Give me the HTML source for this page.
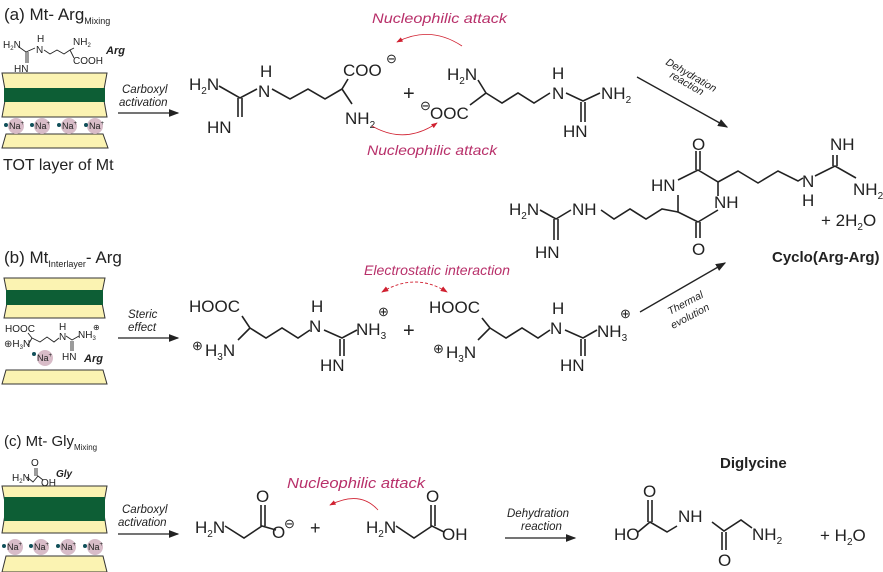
<!DOCTYPE html>
<html><head><meta charset="utf-8"><style>
html,body{margin:0;padding:0;background:#fff}
svg{display:block}
text{font-family:"Liberation Sans",sans-serif;fill:#222}
.m{font-size:17px}
.s{font-size:10px}
.i{font-style:italic;font-size:11.5px}
.r{fill:#b8306a;font-style:italic;font-size:14px}
.b{stroke:#222;stroke-width:1.6;fill:none}
.tb{stroke:#222;stroke-width:0.9;fill:none}
.y{fill:#fbf3b2;stroke:#333;stroke-width:1}
.g{fill:#0d5e35}
.na{fill:#d8bcc8}
.d{fill:#11505a}
</style></head><body>
<svg width="883" height="572" viewBox="0 0 883 572" xmlns="http://www.w3.org/2000/svg">
<defs>
<marker id="ah" markerWidth="8" markerHeight="6" refX="7" refY="3" orient="auto"><path d="M0,0L8,3L0,6z" fill="#222"/></marker>
<marker id="ar" markerWidth="8" markerHeight="6" refX="7" refY="3" orient="auto"><path d="M0,0L8,3L0,6z" fill="#d02030"/></marker>
<marker id="ars" markerWidth="8" markerHeight="6" refX="1" refY="3" orient="auto"><path d="M8,0L0,3L8,6z" fill="#d02030"/></marker>
</defs>

<!-- ===== Panel a ===== -->
<text x="4" y="20" style="font-size:17px">(a) Mt- Arg<tspan style="font-size:9px" dy="4">Mixing</tspan></text>
<text x="3" y="48" class="s">H<tspan dy="2" style="font-size:6px">2</tspan><tspan dy="-2">N</tspan></text>
<text x="37" y="42" class="s">H</text><text x="36" y="53" class="s">N</text>
<text x="73" y="45" class="s">NH<tspan dy="2" style="font-size:6px">2</tspan></text>
<text x="73" y="64" class="s">COOH</text>
<text x="14" y="72" class="s">HN</text>
<path class="tb" d="M19,47L26,52L35,48M26,52L26,63M28,52L28,63M44,50L50,54L57,50L64,54L70,50L74,48M70,50L74,58"/>
<text x="106" y="54" style="font-size:11px;font-weight:bold;font-style:italic">Arg</text>
<polygon class="y" points="2,73 107,73 103,95 107,117 2,117 6,95"/>
<rect class="g" x="4" y="88" width="101" height="14"/>
<polygon class="y" points="6,134 103,134 108,148 2,148"/>
<circle class="na" cx="16" cy="126" r="8"/><circle class="d" cx="6" cy="125" r="2"/><text x="9" y="129" style="font-size:9px">Na<tspan dy="-4" style="font-size:6px">+</tspan></text>
<circle class="na" cx="42" cy="126" r="8"/><circle class="d" cx="32" cy="125" r="2"/><text x="35" y="129" style="font-size:9px">Na<tspan dy="-4" style="font-size:6px">+</tspan></text>
<circle class="na" cx="69" cy="126" r="8"/><circle class="d" cx="59" cy="125" r="2"/><text x="62" y="129" style="font-size:9px">Na<tspan dy="-4" style="font-size:6px">+</tspan></text>
<circle class="na" cx="95" cy="126" r="8"/><circle class="d" cx="86" cy="125" r="2"/><text x="89" y="129" style="font-size:9px">Na<tspan dy="-4" style="font-size:6px">+</tspan></text>
<text x="3" y="170" style="font-size:16px">TOT layer of Mt</text>
<text x="122" y="93" class="i">Carboxyl</text><text x="119" y="106" class="i">activation</text>
<line class="b" x1="118" y1="113" x2="178" y2="113" marker-end="url(#ah)" style="stroke-width:1.3"/>
<text x="189" y="90" class="m">H<tspan dy="4" style="font-size:10px">2</tspan><tspan dy="-4">N</tspan></text>
<text x="260" y="77" class="m">H</text><text x="258" y="97" class="m">N</text>
<text x="207" y="133" class="m">HN</text>
<path class="b" d="M219,86L240,98L257,89M238,98L238,117M242,98L242,117M272,89L290,99L308,89L325,99L342,89L348,79M342,89L352,104"/>
<text x="343" y="76" class="m">COO</text>
<text x="386" y="63" style="font-size:13px">⊖</text>
<text x="345" y="124" class="m">NH<tspan dy="4" style="font-size:10px">2</tspan></text>
<text x="403" y="100" style="font-size:20px">+</text>
<text x="447" y="80" class="m">H<tspan dy="4" style="font-size:10px">2</tspan><tspan dy="-4">N</tspan></text>
<text x="420" y="110" style="font-size:13px">⊖</text>
<text x="430" y="119" class="m">OOC</text>
<path class="b" d="M478,80L486,93L470,105M486,93L502,103L518,93L534,103L550,93M566,93L583,101L600,93M581,102L581,122M585,102L585,122"/>
<text x="552" y="79" class="m">H</text><text x="552" y="99" class="m">N</text>
<text x="601" y="99" class="m">NH<tspan dy="4" style="font-size:10px">2</tspan></text>
<text x="563" y="137" class="m">HN</text>
<text x="372" y="23" class="r" textLength="135" lengthAdjust="spacingAndGlyphs">Nucleophilic attack</text>
<path d="M462,46Q430,25 397,42" stroke="#d02030" stroke-width="0.8" fill="none" marker-end="url(#ar)"/>
<text x="367" y="155" class="r" textLength="130" lengthAdjust="spacingAndGlyphs">Nucleophilic attack</text>
<path d="M372,126Q405,145 437,123" stroke="#d02030" stroke-width="0.8" fill="none" marker-end="url(#ar)"/>
<line class="b" x1="637" y1="77" x2="727" y2="127" marker-end="url(#ah)" style="stroke-width:1.3"/>
<text transform="translate(665,64) rotate(30)" class="i" style="font-size:10.5px">Dehydration</text>
<text transform="translate(669,77) rotate(30)" class="i" style="font-size:10.5px">reaction</text>
<text x="692" y="150" class="m">O</text>
<text x="651" y="191" class="m">HN</text>
<text x="714" y="208" class="m">NH</text>
<text x="692" y="255" class="m">O</text>
<path class="b" d="M678,180L698,170L718,182L718,196M718,210L698,222L678,212L678,195M696,151L696,170M700,151L700,170M696,222L696,238M700,222L700,238M718,182L738,171L758,183L778,171L798,181L803,178"/>
<text x="830" y="150" class="m">NH</text>
<text x="802" y="187" class="m">N</text><text x="802" y="206" class="m">H</text>
<path class="b" d="M815,176L835,166L856,178M833,155L833,166M837,155L837,166"/>
<text x="853" y="195" class="m">NH<tspan dy="4" style="font-size:10px">2</tspan></text>
<text x="821" y="226" class="m">+ 2H<tspan dy="4" style="font-size:10px">2</tspan><tspan dy="-4">O</tspan></text>
<text x="509" y="215" class="m">H<tspan dy="4" style="font-size:10px">2</tspan><tspan dy="-4">N</tspan></text>
<text x="572" y="215" class="m">NH</text>
<text x="535" y="258" class="m">HN</text>
<path class="b" d="M540,210L556,219L571,210M554,219L554,240M558,219L558,240M601,210L614,219L630,209L646,219L662,209L678,212"/>
<text x="772" y="262" style="font-size:15px;font-weight:bold">Cyclo(Arg-Arg)</text>

<!-- ===== Panel b ===== -->
<text x="4" y="263" style="font-size:17px">(b) Mt<tspan style="font-size:9px" dy="4">Interlayer</tspan><tspan dy="-4">- Arg</tspan></text>
<polygon class="y" points="4,278 105,278 101,298 105,318 4,318 8,298"/>
<rect class="g" x="6" y="290" width="97" height="15"/>
<polygon class="y" points="6,370 103,370 107,384 2,384"/>
<text x="5" y="332" class="s">HOOC</text>
<text x="4" y="347" class="s">⊕H<tspan dy="2" style="font-size:6px">3</tspan><tspan dy="-2">N</tspan></text>
<text x="59" y="330" class="s">H</text><text x="59" y="340" class="s">N</text>
<text x="78" y="338" class="s">NH<tspan dy="2" style="font-size:6px">3</tspan></text>
<text x="93" y="330" style="font-size:8px">⊕</text>
<text x="62" y="360" class="s">HN</text>
<path class="tb" d="M28,333L32,338L28,345M32,338L40,342L47,337L54,342L59,338M66,336L72,340L79,336M71,341L71,351M73,341L73,351"/>
<circle class="na" cx="45" cy="358" r="8"/><circle class="d" cx="34" cy="354" r="2"/>
<text x="37" y="361" style="font-size:9px">Na<tspan dy="-4" style="font-size:6px">+</tspan></text>
<text x="84" y="362" style="font-size:11px;font-weight:bold;font-style:italic">Arg</text>
<text x="128" y="318" class="i">Steric</text><text x="128" y="331" class="i">effect</text>
<line class="b" x1="118" y1="338" x2="178" y2="338" marker-end="url(#ah)" style="stroke-width:1.3"/>
<text x="189" y="312" class="m">HOOC</text>
<text x="192" y="350" style="font-size:13px">⊕</text>
<text x="205" y="356" class="m">H<tspan dy="4" style="font-size:10px">3</tspan><tspan dy="-4">N</tspan></text>
<path class="b" d="M242,316L250,328L238,340M250,328L266,338L282,328L298,338L310,330M324,330L342,338L357,330M340,339L340,356M344,339L344,356"/>
<text x="311" y="312" class="m">H</text><text x="309" y="332" class="m">N</text>
<text x="356" y="335" class="m">NH<tspan dy="4" style="font-size:10px">3</tspan></text>
<text x="378" y="316" style="font-size:13px">⊕</text>
<text x="320" y="371" class="m">HN</text>
<text x="403" y="337" style="font-size:20px">+</text>
<text x="429" y="313" class="m">HOOC</text>
<text x="433" y="353" style="font-size:13px">⊕</text>
<text x="446" y="358" class="m">H<tspan dy="4" style="font-size:10px">3</tspan><tspan dy="-4">N</tspan></text>
<path class="b" d="M482,318L490,328L478,340M490,328L506,338L522,328L538,338L550,330M565,330L583,338L597,330M581,339L581,356M585,339L585,356"/>
<text x="552" y="314" class="m">H</text><text x="550" y="334" class="m">N</text>
<text x="597" y="337" class="m">NH<tspan dy="4" style="font-size:10px">3</tspan></text>
<text x="620" y="318" style="font-size:13px">⊕</text>
<text x="560" y="371" class="m">HN</text>
<text x="364" y="275" class="r" textLength="146" lengthAdjust="spacingAndGlyphs">Electrostatic interaction</text>
<path d="M382,292Q415,272 447,292" stroke="#d02030" stroke-width="0.9" stroke-dasharray="3,2" fill="none" marker-end="url(#ar)" marker-start="url(#ars)"/>
<line class="b" x1="640" y1="312" x2="725" y2="263" marker-end="url(#ah)" style="stroke-width:1.3"/>
<text transform="translate(670,315) rotate(-28)" class="i" style="font-size:10.5px">Thermal</text>
<text transform="translate(673,329) rotate(-28)" class="i" style="font-size:10.5px">evolution</text>

<!-- ===== Panel c ===== -->
<text x="4" y="446" style="font-size:15px">(c) Mt- Gly<tspan style="font-size:8px" dy="4">Mixing</tspan></text>
<text x="31" y="466" class="s">O</text>
<text x="12" y="481" class="s">H<tspan dy="2" style="font-size:6px">2</tspan><tspan dy="-2">N</tspan></text>
<text x="41" y="486" class="s">OH</text>
<path class="tb" d="M27,477L33,482L38,476L43,480M37,468L37,476M35,468L35,476"/>
<text x="56" y="477" style="font-size:10px;font-weight:bold;font-style:italic">Gly</text>
<polygon class="y" points="2,486 107,486 103,508 107,533 2,533 6,508"/>
<rect class="g" x="4" y="497" width="101" height="24"/>
<polygon class="y" points="6,556 103,556 107,572 2,572"/>
<circle class="na" cx="15" cy="547" r="8"/><circle class="d" cx="4" cy="546" r="2"/><text x="7" y="550" style="font-size:9px">Na<tspan dy="-4" style="font-size:6px">+</tspan></text>
<circle class="na" cx="41" cy="547" r="8"/><circle class="d" cx="31" cy="546" r="2"/><text x="34" y="550" style="font-size:9px">Na<tspan dy="-4" style="font-size:6px">+</tspan></text>
<circle class="na" cx="68" cy="547" r="8"/><circle class="d" cx="58" cy="546" r="2"/><text x="61" y="550" style="font-size:9px">Na<tspan dy="-4" style="font-size:6px">+</tspan></text>
<circle class="na" cx="95" cy="547" r="8"/><circle class="d" cx="85" cy="546" r="2"/><text x="88" y="550" style="font-size:9px">Na<tspan dy="-4" style="font-size:6px">+</tspan></text>
<text x="122" y="513" class="i">Carboxyl</text><text x="118" y="526" class="i">activation</text>
<line class="b" x1="118" y1="534" x2="178" y2="534" marker-end="url(#ah)" style="stroke-width:1.3"/>
<text x="195" y="533" class="m">H<tspan dy="4" style="font-size:10px">2</tspan><tspan dy="-4">N</tspan></text>
<path class="b" d="M225,526L244,538L262,526L276,530M261,505L261,526M265,505L265,526"/>
<text x="256" y="502" class="m">O</text>
<text x="272" y="538" class="m">O</text><text x="284" y="528" style="font-size:13px">⊖</text>
<text x="310" y="534" style="font-size:18px">+</text>
<text x="366" y="533" class="m">H<tspan dy="4" style="font-size:10px">2</tspan><tspan dy="-4">N</tspan></text>
<path class="b" d="M396,526L414,538L432,526L444,532M431,505L431,526M435,505L435,526"/>
<text x="426" y="502" class="m">O</text>
<text x="442" y="540" class="m">OH</text>
<text x="287" y="488" class="r" style="font-size:15px" textLength="138" lengthAdjust="spacingAndGlyphs">Nucleophilic attack</text>
<path d="M378,510Q360,490 330,505" stroke="#d02030" stroke-width="0.8" fill="none" marker-end="url(#ar)"/>
<text x="507" y="517" class="i">Dehydration</text><text x="521" y="530" class="i">reaction</text>
<line class="b" x1="505" y1="538" x2="575" y2="538" marker-end="url(#ah)" style="stroke-width:1.3"/>
<text x="720" y="468" style="font-size:15px;font-weight:bold">Diglycine</text>
<text x="614" y="540" class="m">HO</text>
<text x="643" y="497" class="m">O</text>
<path class="b" d="M638,532L650,522L667,532L677,526M648,500L648,522M652,500L652,522M712,522L724,531L741,520L752,528M722,532L722,550M726,532L726,550"/>
<text x="678" y="522" class="m">NH</text>
<text x="718" y="566" class="m">O</text>
<text x="752" y="540" class="m">NH<tspan dy="4" style="font-size:10px">2</tspan></text>
<text x="820" y="541" class="m">+ H<tspan dy="4" style="font-size:10px">2</tspan><tspan dy="-4">O</tspan></text>
</svg>
</body></html>
